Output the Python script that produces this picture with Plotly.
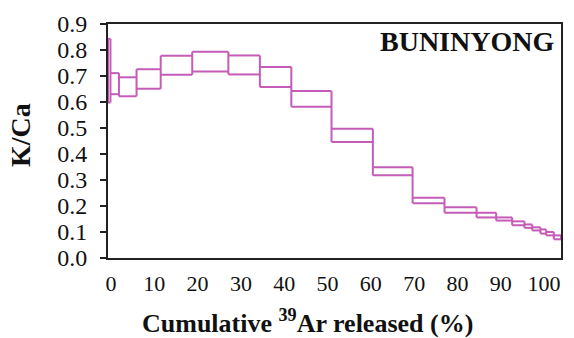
import plotly.graph_objects as go

# Step boundaries (cumulative 39Ar released, %) and K/Ca envelope per heating step
step_edges = [0, 0.57, 2.53, 6.59, 12.17, 19.45, 27.79, 35.07, 42.33, 51.61, 61.16,
              70.33, 77.70, 85.10, 89.64, 93.32, 96.16, 97.96, 99.84, 101.17, 102.94, 104.6]
kca_upper = [0.843, 0.711, 0.695, 0.726, 0.778, 0.793, 0.779, 0.735, 0.642, 0.497, 0.349,
             0.232, 0.195, 0.174, 0.156, 0.141, 0.129, 0.118, 0.110, 0.100, 0.087]
kca_lower = [0.598, 0.630, 0.622, 0.651, 0.705, 0.717, 0.706, 0.658, 0.582, 0.446, 0.318,
             0.211, 0.174, 0.156, 0.144, 0.126, 0.116, 0.106, 0.094, 0.087, 0.072]

x_ticks = [0, 10, 20, 30, 40, 50, 60, 70, 80, 90, 100]
y_ticks = [0.0, 0.1, 0.2, 0.3, 0.4, 0.5, 0.6, 0.7, 0.8, 0.9]
sample_name = "BUNINYONG"

n = len(kca_upper)
xs, ys = [], []
# Top and bottom edge of every step
for i in range(n):
    x0, x1 = step_edges[i], step_edges[i + 1]
    xs += [x0, x1, None, x0, x1, None]
    ys += [kca_upper[i], kca_upper[i], None, kca_lower[i], kca_lower[i], None]
# Vertical edges: at each boundary span the union of the neighbouring steps
for k in range(n + 1):
    nb = [j for j in (k - 1, k) if 0 <= j < n]
    hi = max(kca_upper[j] for j in nb)
    lo = min(kca_lower[j] for j in nb)
    xs += [step_edges[k], step_edges[k], None]
    ys += [hi, lo, None]

serif = "Liberation Serif, Times New Roman, serif"
ink = "#111111"

fig = go.Figure()
fig.add_trace(go.Scatter(
    x=xs, y=ys, mode="lines",
    line=dict(color="#c45cb8", width=2),
    hoverinfo="skip", showlegend=False,
))

fig.update_layout(
    width=574, height=338,
    margin=dict(l=108, r=11, t=20, b=80),
    paper_bgcolor="white", plot_bgcolor="white",
    font=dict(family=serif, color=ink),
    xaxis=dict(
        range=[0, step_edges[-1]],
        tickvals=x_ticks, ticktext=[str(v) for v in x_ticks],
        ticks="", showgrid=False, zeroline=False,
        showline=True, linecolor="#222222", linewidth=2, mirror=True,
        tickfont=dict(family=serif, size=22, color=ink),
        ticklabelstandoff=5, ticklabelshift=3,
    ),
    yaxis=dict(
        range=[0, 0.9],
        tickvals=y_ticks, ticktext=[f"{v:.1f}" for v in y_ticks],
        ticks="outside", ticklen=6, tickwidth=2, tickcolor="#222222",
        showgrid=False, zeroline=False,
        showline=True, linecolor="#222222", linewidth=2, mirror=True,
        tickfont=dict(family=serif, size=24, color=ink),
        ticklabelstandoff=8,
    ),
    annotations=[
        dict(text=f"<b>{sample_name}</b>", xref="paper", yref="paper",
             x=0.98, y=0.912, xanchor="right", yanchor="middle", showarrow=False,
             xshift=4, yshift=3,
             font=dict(family=serif, size=28, color=ink)),
        dict(text="<b>Cumulative <sup>39</sup>Ar released (%)</b>",
             xref="paper", yref="paper", x=0.44, y=0, yshift=-63,
             xanchor="center", yanchor="middle", showarrow=False,
             font=dict(family=serif, size=26, color=ink)),
        dict(text="<b>K/Ca</b>", xref="paper", yref="paper",
             x=0, y=(258 - 133) / 238, xshift=-88, textangle=-90,
             xanchor="center", yanchor="middle", showarrow=False,
             font=dict(family=serif, size=28, color=ink)),
    ],
)

fig.write_html("out.html")
